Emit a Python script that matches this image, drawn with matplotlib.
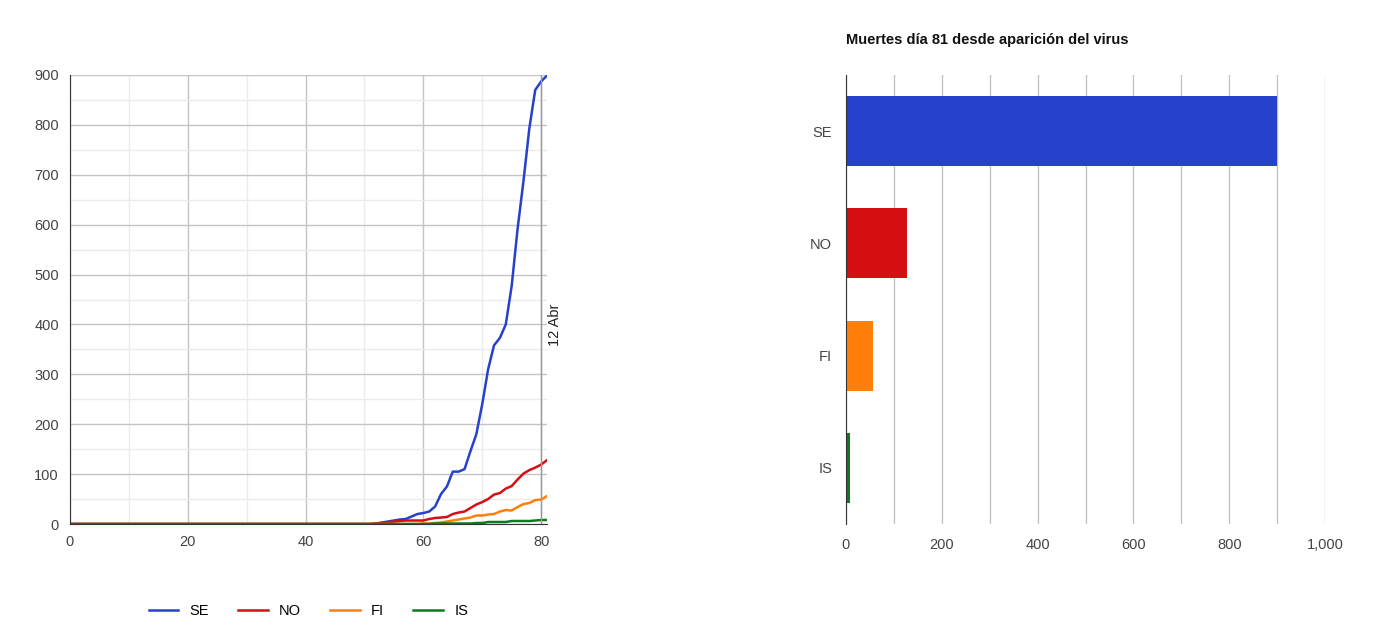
import matplotlib.pyplot as plt
import numpy as np
from matplotlib.ticker import MultipleLocator, FuncFormatter

plt.rcParams['font.family'] = ['Arial', 'Liberation Sans', 'DejaVu Sans']

days = list(range(82))
se = [0] * 50 + [0, 0, 1, 3, 5, 7, 9, 10, 15, 20, 22, 25, 35, 60, 75, 105, 105, 110,
                 146, 180, 240, 310, 358, 373, 400, 477, 591, 687, 793, 870, 887, 899]
no = [0] * 50 + [0, 0, 1, 2, 3, 5, 6, 7, 7, 7, 7, 10, 12, 13, 14, 20, 23, 25,
                 32, 39, 44, 50, 59, 62, 71, 76, 89, 101, 108, 113, 119, 128]
fi = [0] * 50 + [0, 0, 0, 0, 0, 0, 0, 0, 0, 0, 1, 1, 2, 3, 5, 7, 9, 11,
                 13, 17, 17, 19, 20, 25, 28, 27, 34, 40, 42, 48, 49, 56]
is_ = [0] * 50 + [0, 0, 0, 0, 0, 0, 0, 0, 0, 0, 0, 0, 1, 1, 1, 1, 1, 1,
                  1, 2, 2, 4, 4, 4, 4, 6, 6, 6, 6, 7, 8, 8]

countries = ['SE', 'NO', 'FI', 'IS']
colors = ['#2641cc', '#d50f14', '#ff7f0a', '#0f7a1e']
last_day = [se[-1], no[-1], fi[-1], is_[-1]]

fig = plt.figure(figsize=(13.77, 6.42), dpi=100)
W, H = 1377, 642
ax = fig.add_axes([70 / W, 1 - 524 / H, 477 / W, 449 / H])
for vals, c, name in zip([se, no, fi, is_], colors, countries):
    ax.plot(days, vals, color=c, lw=1.8, label=name)
ax.axvline(80, color='#999999', lw=1)
ax.text(81.2, 400, '12 Abr', rotation=90, ha='left', va='center', fontsize=10.5, color='#222222')
ax.set_xlim(0, 81)
ax.set_ylim(0, 900)
ax.xaxis.set_major_locator(MultipleLocator(20))
ax.xaxis.set_minor_locator(MultipleLocator(10))
ax.yaxis.set_major_locator(MultipleLocator(100))
ax.yaxis.set_minor_locator(MultipleLocator(50))
ax.grid(which='major', color='#c4c4c4', lw=1)
ax.grid(which='minor', color='#ebebeb', lw=1)
ax.set_axisbelow(True)
for s in ['top', 'right']:
    ax.spines[s].set_visible(False)
ax.spines['left'].set_color('#333333')
ax.spines['bottom'].set_color('#333333')
ax.tick_params(which='both', length=0, labelsize=10.5, labelcolor='#444444', pad=8)
ax.legend(loc='upper center', bbox_to_anchor=(0.5, -0.15), ncol=4, frameon=False,
          fontsize=10.5, handlelength=2, columnspacing=2)

bx = fig.add_axes([846 / W, 1 - 524 / H, 479 / W, 449 / H])
ypos = np.arange(len(countries))
bx.barh(ypos, last_day, height=0.625, color=colors)
bx.set_yticks(ypos)
bx.set_yticklabels(countries)
bx.set_ylim(3.5, -0.5)
bx.set_xlim(0, 1000)
bx.xaxis.set_major_locator(MultipleLocator(200))
bx.xaxis.set_minor_locator(MultipleLocator(100))
bx.xaxis.set_major_formatter(FuncFormatter(lambda v, p: f'{int(v):,}'))
bx.grid(axis='x', which='both', color='#c4c4c4', lw=1)
bx.set_axisbelow(True)
for s in ['top', 'right', 'bottom']:
    bx.spines[s].set_visible(False)
bx.spines['left'].set_color('#333333')
bx.tick_params(which='both', length=0, labelsize=10.5, labelcolor='#444444', pad=10)
bx.set_title('Muertes día 81 desde aparición del virus', loc='left', fontsize=10.5,
             fontweight='bold', color='#111111', pad=22)

fig.savefig('out.png')
